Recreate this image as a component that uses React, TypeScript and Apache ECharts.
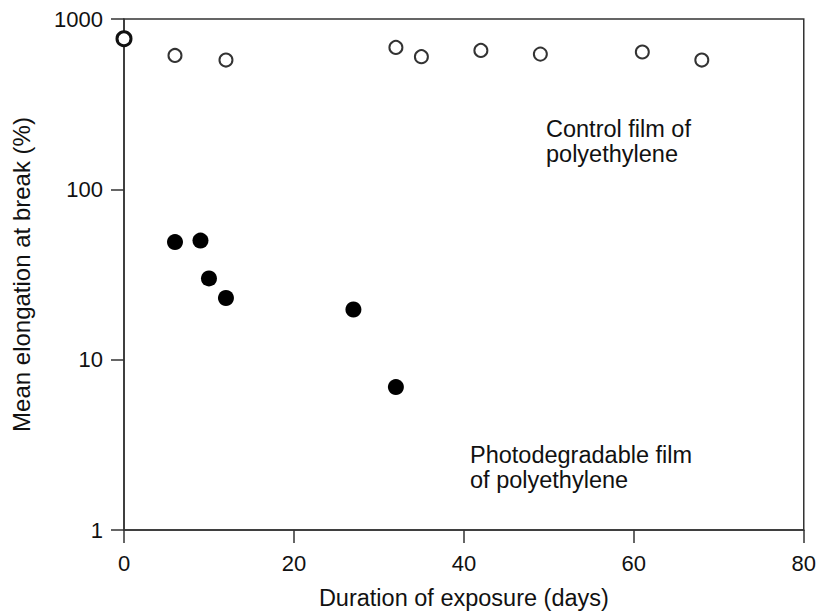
import React, { useEffect, useRef } from "react";
import * as echarts from "echarts";

const controlDays = [0, 6, 12, 32, 35, 42, 49, 61, 68];
const controlElong = [766, 611, 574, 681, 601, 654, 622, 640, 574];
const photoDays = [6, 9, 10, 12, 27, 32];
const photoElong = [49, 50, 30, 23, 19.7, 6.9];
const xTicks = [0, 20, 40, 60, 80];
const yTicks = [1, 10, 100, 1000];

export default function App() {
  const ref = useRef<HTMLDivElement>(null);
  useEffect(() => {
    const chart = echarts.init(ref.current!, null, { renderer: "svg" });
    const font = "Liberation Sans, Arial, Helvetica, sans-serif";
    const ctrlData = controlDays.map((d, i) => [d, controlElong[i]]);
    chart.setOption({
      animation: false,
      backgroundColor: "#ffffff",
      grid: {
        left: 124,
        right: 14,
        top: 19,
        bottom: 85,
        show: true,
        borderColor: "#333",
        borderWidth: 1.5,
      },
      xAxis: {
        type: "value",
        min: 0,
        max: 80,
        interval: 20,
        name: "Duration of exposure (days)",
        nameLocation: "middle",
        nameGap: 56,
        nameTextStyle: { fontFamily: font, fontSize: 23.5, color: "#111" },
        axisLine: { show: true, lineStyle: { color: "#333", width: 1.5 } },
        axisTick: { show: true, length: 13, lineStyle: { color: "#333", width: 1.5 } },
        axisLabel: {
          fontFamily: font,
          fontSize: 22,
          color: "#111",
          margin: 22,
          formatter: (v: number) => (xTicks.includes(v) ? String(v) : ""),
        },
        splitLine: { show: false },
      },
      yAxis: {
        type: "log",
        logBase: 10,
        min: 1,
        max: 1000,
        name: "Mean elongation at break (%)",
        nameLocation: "middle",
        nameGap: 91,
        nameTextStyle: { fontFamily: font, fontSize: 24, color: "#111" },
        axisLine: { show: true, lineStyle: { color: "#333", width: 1.5 } },
        axisTick: { show: true, length: 13, lineStyle: { color: "#333", width: 1.5 } },
        minorTick: { show: false },
        axisLabel: {
          fontFamily: font,
          fontSize: 22,
          color: "#111",
          margin: 21,
          formatter: (v: number) => {
            const r = Math.round(v);
            return yTicks.includes(r) ? String(r) : "";
          },
        },
        splitLine: { show: false },
      },
      series: [
        {
          name: "Control film of polyethylene",
          type: "scatter",
          symbol: "circle",
          symbolSize: 13,
          data: ctrlData.slice(1),
          itemStyle: { color: "#fff", borderColor: "#333", borderWidth: 2, opacity: 1 },
        },
        {
          name: "Control film (day 0)",
          type: "scatter",
          symbol: "circle",
          symbolSize: 14,
          data: ctrlData.slice(0, 1),
          itemStyle: { color: "#fff", borderColor: "#111", borderWidth: 3, opacity: 1 },
        },
        {
          name: "Photodegradable film of polyethylene",
          type: "scatter",
          symbol: "circle",
          symbolSize: 16,
          data: photoDays.map((d, i) => [d, photoElong[i]]),
          itemStyle: { color: "#000", borderWidth: 0, opacity: 1 },
        },
      ],
      graphic: [
        {
          type: "text",
          left: 546,
          top: 116,
          style: {
            text: "Control film of\npolyethylene",
            font: `23.5px ${font}`,
            fill: "#111",
            lineHeight: 25,
          },
        },
        {
          type: "text",
          left: 470,
          top: 442,
          style: {
            text: "Photodegradable film\nof polyethylene",
            font: `23.5px ${font}`,
            fill: "#111",
            lineHeight: 25,
          },
        },
      ],
    });
    return () => chart.dispose();
  }, []);
  return <div ref={ref} style={{ width: 819, height: 615, position: "absolute", left: 0, top: 0 }} />;
}
